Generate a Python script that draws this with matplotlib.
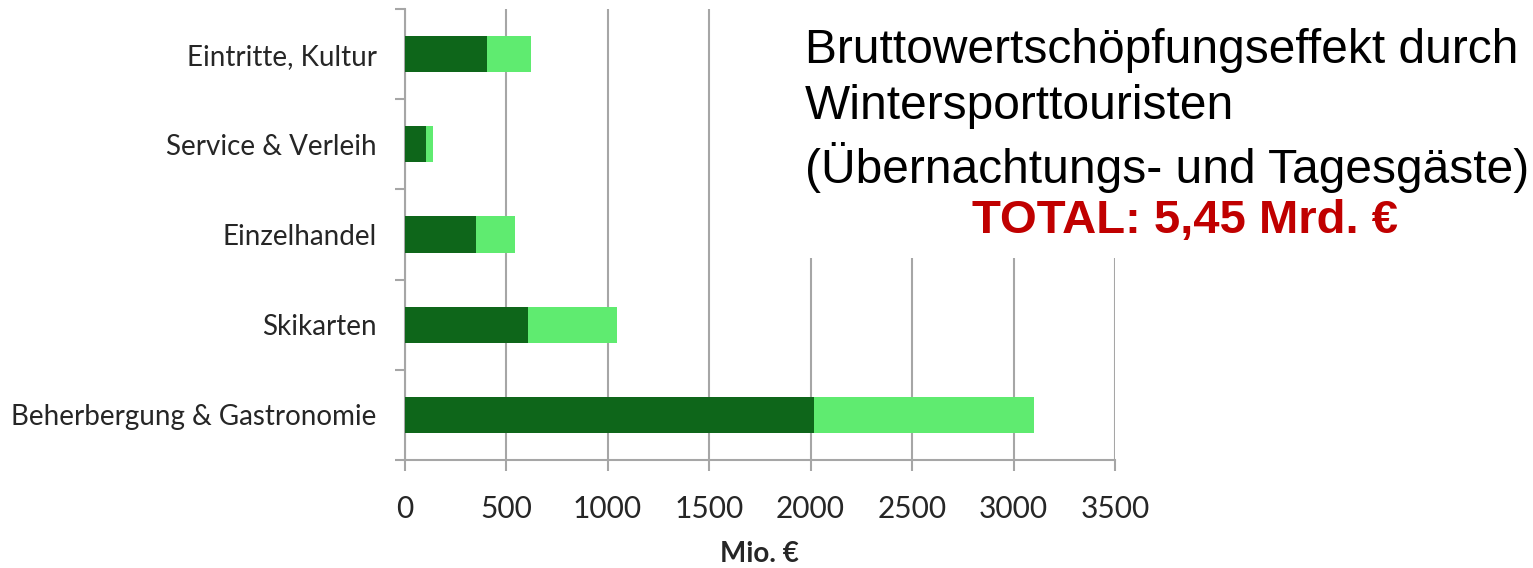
import matplotlib.pyplot as plt
from matplotlib.patches import Rectangle
from matplotlib.ticker import FixedLocator, NullFormatter

# data (Mio. EUR), top to bottom
categories = ['Eintritte, Kultur', 'Service & Verleih', 'Einzelhandel',
              'Skikarten', 'Beherbergung & Gastronomie']
part_dark = [405, 106, 351, 608, 2019]
part_light = [220, 33, 195, 439, 1081]
x_ticks = [0, 500, 1000, 1500, 2000, 2500, 3000, 3500]

title_lines = ['Bruttowertschöpfungseffekt durch',
               'Wintersporttouristen',
               '(Übernachtungs- und Tagesgäste)']
total_text = 'TOTAL: 5,45 Mrd. €'

W, H = 1533, 568
fig = plt.figure(figsize=(W / 100, H / 100), dpi=100)
ax = fig.add_axes([404.5 / W, 1 - 460 / H, (1115 - 404.5) / W, 451 / H])

grid_col = '#a6a6a6'
pos = list(range(len(categories)))
ax.barh(pos, part_dark, height=0.4, color='#0e661a', zorder=3)
ax.barh(pos, part_light, left=part_dark, height=0.4, color='#5feb70', zorder=3)

ax.set_xlim(0, 3500)
ax.set_ylim(len(categories) - 0.5, -0.5)
ax.set_xticks(x_ticks)
ax.set_xticklabels([str(t) for t in x_ticks])
ax.set_yticks(pos)
ax.set_yticklabels(categories)
ax.yaxis.set_minor_locator(FixedLocator([p - 0.5 for p in pos] + [len(pos) - 0.5]))
ax.yaxis.set_minor_formatter(NullFormatter())

ax.grid(axis='x', color=grid_col, linewidth=1.5, zorder=0)
for s in ['top', 'right']:
    ax.spines[s].set_visible(False)
for s in ['left', 'bottom']:
    ax.spines[s].set_color(grid_col)
    ax.spines[s].set_linewidth(1.5)

ax.tick_params(axis='y', which='major', length=0, pad=20, labelsize=20, labelcolor='#262626')
ax.tick_params(axis='y', which='minor', length=7, width=1.5, color=grid_col)
ax.tick_params(axis='x', length=8, width=1.5, color=grid_col, pad=17,
               labelsize=21.5, labelcolor='#262626')
for lbl in ax.get_xticklabels() + ax.get_yticklabels():
    lbl.set_family('Lato')

fig.text(759.75 / W, 1 - 554 / H, 'Mio. €', ha='center', va='center',
         fontsize=20, fontweight='bold', family='Lato', color='#262626')

# white box behind the title text, covering the grid lines
fig.patches.append(Rectangle((790 / W, 1 - 258 / H), (W - 790) / W, 258 / H,
                             transform=fig.transFigure, facecolor='white',
                             edgecolor='none', zorder=5))

fig.text(805 / W, 1 - 28 / H, '\n'.join(title_lines), ha='left', va='top',
         fontsize=34.5, family='Liberation Sans', color='black',
         linespacing=1.31, zorder=6)
fig.text(1185 / W, 1 - 221 / H, total_text, ha='center', va='center',
         fontsize=34, fontweight='bold', family='Liberation Sans',
         color='#c00000', zorder=6)

fig.savefig('out.png', dpi=100)
